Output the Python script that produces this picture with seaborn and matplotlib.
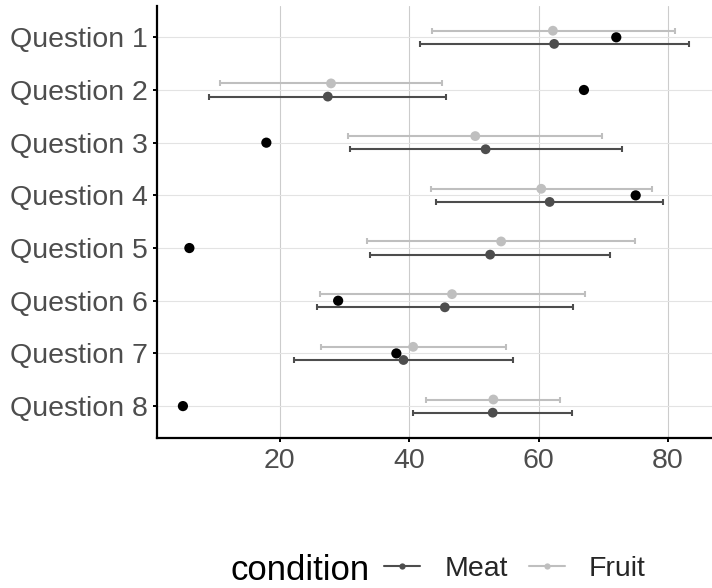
import matplotlib
matplotlib.use("Agg")
import matplotlib.pyplot as plt
from matplotlib.lines import Line2D
import numpy as np
import pandas as pd
import seaborn as sns

# Survey estimates per question: mean with interval bounds, per condition
questions = ["Question 1", "Question 2", "Question 3", "Question 4",
             "Question 5", "Question 6", "Question 7", "Question 8"]
meat_mean = [62.4, 27.4, 51.8, 61.7, 52.5, 45.5, 39.1, 52.9]
meat_low = [41.6, 9.1, 30.8, 44.1, 33.9, 25.8, 22.2, 40.6]
meat_high = [83.2, 45.6, 72.9, 79.2, 71.1, 65.3, 56.1, 65.1]
fruit_mean = [62.2, 27.9, 50.2, 60.4, 54.2, 46.6, 40.6, 53.0]
fruit_low = [43.5, 10.7, 30.6, 43.3, 33.5, 26.2, 26.3, 42.6]
fruit_high = [81.1, 45.1, 69.8, 77.6, 74.9, 67.2, 55.0, 63.3]
actual = [72.0, 67.0, 17.9, 75.0, 6.0, 29.0, 38.0, 5.0]
conditions = ["Meat", "Fruit"]
x_ticks = [20, 40, 60, 80]

colors = {"Meat": "#4d4d4d", "Fruit": "#bfbfbf"}
dodge = {"Meat": 0.125, "Fruit": -0.125}

rows = []
for cond, m, lo, hi in [("Meat", meat_mean, meat_low, meat_high),
                        ("Fruit", fruit_mean, fruit_low, fruit_high)]:
    for i, q in enumerate(questions):
        rows.append({"question": q, "idx": i, "condition": cond,
                     "mean": m[i], "low": lo[i], "high": hi[i],
                     "pos": i + dodge[cond]})
df = pd.DataFrame(rows)
df_actual = pd.DataFrame({"question": questions, "idx": range(len(questions)),
                          "value": actual})

sns.set_theme(style="white")
plt.rcParams["font.family"] = ["Liberation Sans", "DejaVu Sans"]

fig = plt.figure(figsize=(7.12, 5.88), dpi=100)
ax = fig.add_axes([157.3 / 712, 150.3 / 588, (712 - 157.3) / 712, 432.0 / 588])

# reference values as black dots
sns.scatterplot(data=df_actual, x="value", y="idx", color="black", s=54,
                edgecolor="none", linewidth=0, ax=ax, zorder=3, legend=False)

# interval bars for each condition
for cond in conditions:
    sub = df[df["condition"] == cond]
    ax.errorbar(sub["mean"], sub["pos"],
                xerr=[sub["mean"] - sub["low"], sub["high"] - sub["mean"]],
                fmt="none", ecolor=colors[cond], elinewidth=1.5,
                capsize=1.9, capthick=1.5, zorder=4)

sns.scatterplot(data=df, x="mean", y="pos", hue="condition",
                hue_order=conditions, palette=colors, s=50,
                edgecolor="none", linewidth=0, ax=ax, zorder=5, legend=False)

ax.set_xlim(1.04, 86.8)
ax.set_ylim(7.6, -0.6)
ax.set_yticks(range(len(questions)))
ax.set_yticklabels(questions)
ax.set_xticks(x_ticks)
ax.set_xlabel("")
ax.set_ylabel("")

ax.xaxis.grid(True, color="#cccccc", linewidth=0.8)
ax.yaxis.grid(True, color="#e3e3e3", linewidth=0.8)
ax.set_axisbelow(True)

for side in ["top", "right"]:
    ax.spines[side].set_visible(False)
for side in ["left", "bottom"]:
    ax.spines[side].set_color("black")
    ax.spines[side].set_linewidth(1.6)

ax.tick_params(axis="both", which="major", length=3.2, width=1.4,
               color="black", labelcolor="#4d4d4d", labelsize=20.5,
               left=True, bottom=True)
ax.tick_params(axis="y", pad=3.5)
ax.tick_params(axis="x", pad=4.0)

# legend along the bottom, with its title to the left of the keys
fig.text(230 / 712, 1 - 580 / 588, "condition", fontsize=25, color="black",
         ha="left", va="baseline")
handles = [Line2D([0], [0], color=colors[c], lw=1.5, marker="o",
                  markersize=4.5, markeredgewidth=0) for c in conditions]
fig.legend(handles, conditions, loc="center", ncol=2, frameon=False,
           bbox_to_anchor=(515 / 712, 1 - 569 / 588), fontsize=20.5,
           handlelength=1.26, handletextpad=0.84, columnspacing=0.74,
           borderpad=0, borderaxespad=0)

fig.savefig("out.png", dpi=100)
